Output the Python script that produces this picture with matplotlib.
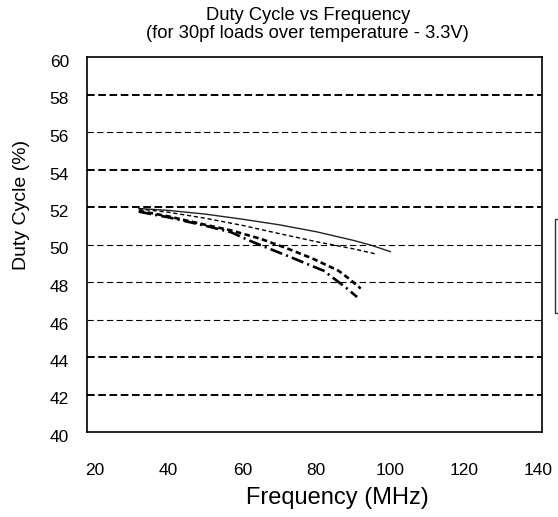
import matplotlib
matplotlib.use("Agg")
import matplotlib.pyplot as plt
import matplotlib.transforms as mtransforms
from matplotlib.patches import Rectangle

plt.rcParams['font.family'] = ['Liberation Sans', 'DejaVu Sans']
plt.rcParams['lines.scale_dashes'] = False

# ---- data ----
freq_solid = [32, 40, 50, 60, 70, 80, 90, 95, 100]
duty_solid = [51.92, 51.82, 51.62, 51.35, 51.05, 50.68, 50.22, 49.95, 49.62]

freq_fine = [32, 40, 50, 60, 70, 80, 90, 96]
duty_fine = [51.9, 51.72, 51.4, 51.02, 50.58, 50.15, 49.77, 49.5]

freq_dash = [32, 40, 50, 57, 65, 72, 79, 86, 89, 92]
duty_dash = [51.8, 51.5, 51.05, 50.75, 50.3, 49.8, 49.25, 48.6, 48.15, 47.65]

freq_dashdot = [32, 40, 50, 57, 62, 67, 74, 77, 82, 88, 91]
duty_dashdot = [51.75, 51.45, 51.0, 50.65, 50.2, 49.8, 49.25, 49.0, 48.6, 47.7, 47.2]

x_ticks = [20, 40, 60, 80, 100, 120, 140]
y_ticks = [40, 42, 44, 46, 48, 50, 52, 54, 56, 58, 60]
heavy_grid = [58, 54, 52, 44, 42]
light_grid = [56, 50, 48, 46]

W, H = 558, 517
fig = plt.figure(figsize=(W / 100, H / 100), dpi=100)
ax = fig.add_axes([87 / W, 1 - 432 / H, 455 / W, 375 / H])

ax.set_xlim(18, 141)
ax.set_ylim(40, 60)

for g in heavy_grid:
    ax.axhline(g, color='black', lw=1.4, linestyle=(0, (5.5, 2.6)), zorder=1)
for g in light_grid:
    ax.axhline(g, color='black', lw=0.8, linestyle=(0, (4.5, 2.5)), zorder=1)

ax.plot(freq_solid, duty_solid, color='#222222', lw=1.0, zorder=3)
ax.plot(freq_fine, duty_fine, color='black', lw=1.0, linestyle=(0, (3, 2)), zorder=3)
ax.plot(freq_dash, duty_dash, color='black', lw=1.9, linestyle=(0, (4, 2.5)), zorder=3)
ax.plot(freq_dashdot, duty_dashdot, color='black', lw=1.9,
        linestyle=(0, (9, 3, 1.5, 3)), zorder=3)

ax.set_xticks(x_ticks)
ax.set_xticklabels([str(v) for v in x_ticks], fontsize=12.5)
ax.set_yticks(y_ticks)
ax.set_yticklabels([str(v) for v in y_ticks], fontsize=12.5)
ax.tick_params(axis='both', length=0)
ax.tick_params(axis='x', pad=22)
ax.tick_params(axis='y', pad=13)
offset = mtransforms.ScaledTranslation(0, -4 / 100, fig.dpi_scale_trans)
for lbl in ax.get_yticklabels():
    lbl.set_transform(lbl.get_transform() + offset)

for s in ax.spines.values():
    s.set_linewidth(1.2)
    s.set_color('black')

fig.text(308 / W, 1 - 15 / H, 'Duty Cycle vs Frequency', ha='center', va='center', fontsize=13.2)
fig.text(307 / W, 1 - 33 / H, '(for 30pf loads over temperature - 3.3V)', ha='center',
         va='center', fontsize=13.2)
fig.text(337 / W, 1 - 498 / H, 'Frequency (MHz)', ha='center', va='center', fontsize=17)
fig.text(22 / W, 1 - 205 / H, 'Duty Cycle (%)', ha='center', va='center', fontsize=14,
         rotation=90)

fig.patches.append(Rectangle((555 / W, 1 - 313 / H), 60 / W, 94 / H, transform=fig.transFigure,
                             fill=False, edgecolor='#333333', lw=1.0, clip_on=False))

fig.savefig('out.png', dpi=100)
